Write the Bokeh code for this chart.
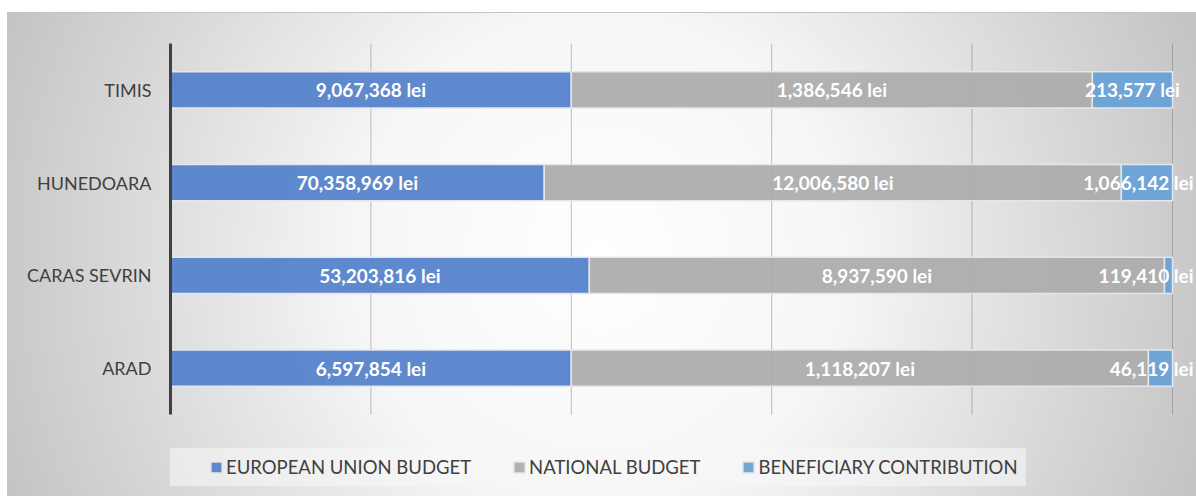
from bokeh.plotting import figure
from bokeh.models import Range1d, ColumnDataSource, Legend, LegendItem, FixedTicker
from bokeh.core.properties import value
from bokeh.embed import file_html
from bokeh.resources import INLINE

# ---- data (bottom to top) ----
regions = ["ARAD", "CARAS SEVRIN", "HUNEDOARA", "TIMIS"]
# bar segment shares (% of bar length)
eu_share = [40.0, 41.8, 37.3, 40.0]
nat_share = [57.6, 57.4, 57.6, 52.0]
ben_share = [2.4, 0.8, 5.1, 8.0]
# data labels shown on the segments
eu_labels = ["6,597,854 lei", "53,203,816 lei", "70,358,969 lei", "9,067,368 lei"]
nat_labels = ["1,118,207 lei", "8,937,590 lei", "12,006,580 lei", "1,386,546 lei"]
ben_labels = ["46,119 lei", "119,410 lei", "1,066,142 lei", "213,577 lei"]
series = ["EUROPEAN UNION BUDGET", "NATIONAL BUDGET", "BENEFICIARY CONTRIBUTION"]
colors = ["#5683cb", "#adadad", "#68a1d6"]
grid_ticks = [20, 40, 60, 80, 100]

FONT = "Lato"
W, H = 1196, 496
LEFT, TOP = 170, 43
PLOT_BOTTOM = 414                      # where the category area ends (page px)
PX_PER_UNIT = 10.02
X_END = (W - LEFT) / PX_PER_UNIT       # frame reaches the page edge so labels are not clipped
n = len(regions)
BAND = (PLOT_BOTTOM - TOP) / n
Y_START = -(H - PLOT_BOTTOM) / BAND    # room under the categories for the legend

ypos = [i + 0.5 for i in range(n)]
src = ColumnDataSource(dict(y=ypos, eu=eu_share, nat=nat_share, ben=ben_share))

p = figure(width=W, height=H, output_backend="svg", toolbar_location=None,
           y_range=Range1d(Y_START, n), x_range=Range1d(0, X_END),
           min_border_left=LEFT, min_border_right=0, min_border_top=TOP, min_border_bottom=0)
p.styles = {
    "background": (
        "linear-gradient(#ffffff,#ffffff) 0 0 / 100% 12px no-repeat, "
        "linear-gradient(#ffffff,#ffffff) 0 0 / 7px 100% no-repeat, "
        "linear-gradient(#c4c4c4,#c4c4c4) 7px 12px / 100% 1px no-repeat, "
        "linear-gradient(#c4c4c4,#c4c4c4) 7px 12px / 1px 100% no-repeat, "
        "radial-gradient(circle farthest-corner at 50% 52%, #ffffff 0%, #f6f6f6 38%, #c2c2c2 100%)"
    )
}
p.border_fill_color = None
p.background_fill_color = None
p.outline_line_color = None

# vertical gridlines limited to the category area
p.xgrid.visible = False
p.ygrid.visible = False
p.segment(x0=grid_ticks, y0=[0] * len(grid_ticks), x1=grid_ticks, y1=[n] * len(grid_ticks),
          line_color="#707070", line_alpha=0.45, line_width=1)

renderers = p.hbar_stack(["eu", "nat", "ben"], y="y", height=0.39, source=src,
                         fill_color=colors, fill_alpha=0.95,
                         line_color="#e3e7ec", line_width=1.5)

# axes
p.xaxis.visible = False
ax = p.yaxis[0]
ax.ticker = FixedTicker(ticks=ypos)
ax.major_label_overrides = {y: r for y, r in zip(ypos, regions)}
ax.bounds = (0, n)
ax.axis_line_color = "#404040"
ax.axis_line_width = 3
ax.major_tick_line_color = None
ax.minor_tick_line_color = None
ax.major_tick_out = 0
ax.major_label_standoff = 19
ax.major_label_text_font = FONT
ax.major_label_text_font_size = "18px"
ax.major_label_text_color = "#404040"

# data labels
eu_mid = [e / 2 for e in eu_share]
nat_mid = [e + m / 2 for e, m in zip(eu_share, nat_share)]
ben_mid = [e + m + b / 2 for e, m, b in zip(eu_share, nat_share, ben_share)]

lab_kw = dict(text_font=value(FONT), text_font_size="19px", text_font_style="bold",
              text_color="#ffffff", text_baseline="middle")
p.text(x=eu_mid, y=ypos, text=eu_labels, text_align="center", **lab_kw)
p.text(x=nat_mid, y=ypos, text=nat_labels, text_align="center", **lab_kw)

# beneficiary labels: centered unless they would run past the chart edge
c_x, c_y, c_t, r_y, r_t = [], [], [], [], []
for xm, yy, t in zip(ben_mid, ypos, ben_labels):
    half_w = len(t) * 9.0 / 2
    if (100 - xm) * PX_PER_UNIT - half_w < -22:
        r_y.append(yy); r_t.append(t)
    else:
        c_x.append(xm); c_y.append(yy); c_t.append(t)
if c_t:
    p.text(x=c_x, y=c_y, text=c_t, text_align="center", **lab_kw)
if r_t:
    p.text(x=[100] * len(r_t), y=r_y, text=r_t, text_align="right", x_offset=21, **lab_kw)

legend = Legend(items=[LegendItem(label=s, renderers=[r]) for s, r in zip(series, renderers)],
                location=(-5, 10), orientation="horizontal",
                title=" ", title_location="left", title_standoff=35,
                title_text_font_size="1px",
                glyph_width=14, glyph_height=14, label_standoff=3, spacing=41, padding=8,
                label_text_font=FONT, label_text_font_size="18.5px", label_text_color="#404040",
                background_fill_color="#f7f7f7", background_fill_alpha=0.6,
                border_line_color="#f7f7f7", border_line_alpha=0.0)
p.add_layout(legend, "center")

open("out.html", "w").write(file_html(p, INLINE))
